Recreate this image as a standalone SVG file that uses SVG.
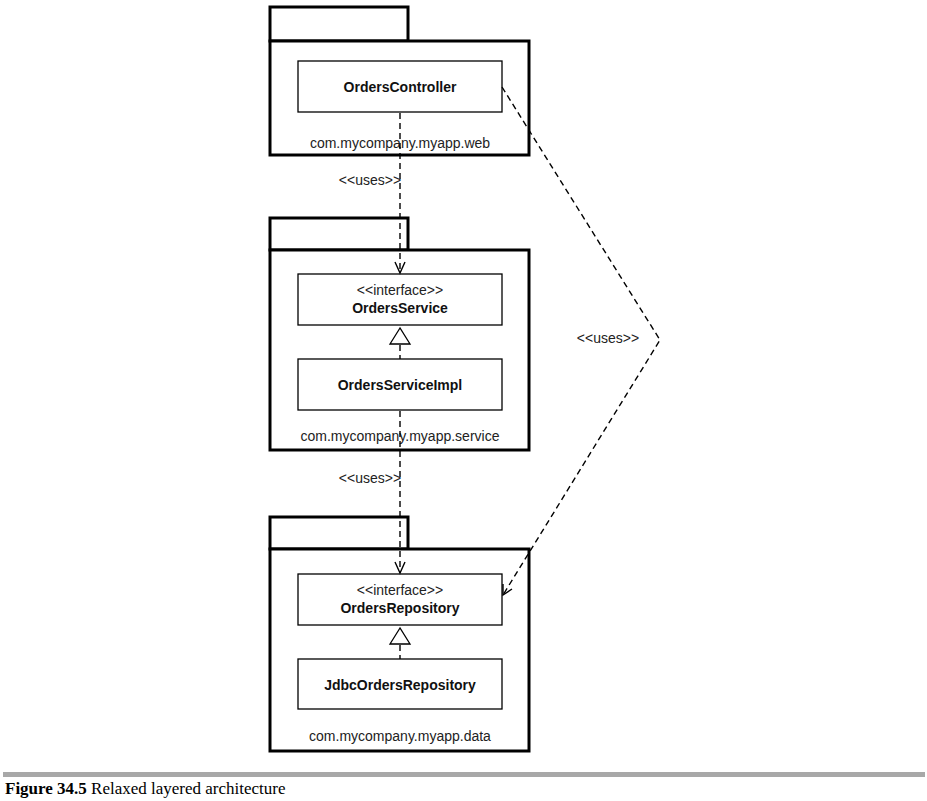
<svg xmlns="http://www.w3.org/2000/svg" width="927" height="801" viewBox="0 0 927 801">
<style>
.pkg{fill:#fff;stroke:#000;stroke-width:3}
.cls{fill:#fff;stroke:#000;stroke-width:1.3}
.name{font-family:"Liberation Sans",Arial,sans-serif;font-size:14px;font-weight:bold;text-anchor:middle;fill:#111}
.ster{font-family:"Liberation Sans",Arial,sans-serif;font-size:14px;text-anchor:middle;fill:#222}
.plabel{font-family:"Liberation Sans",Arial,sans-serif;font-size:14px;text-anchor:middle;fill:#222}
.dash{fill:none;stroke:#000;stroke-width:1.4;stroke-dasharray:6 4}
.arrow{fill:none;stroke:#000;stroke-width:1.4}
.tri{fill:#fff;stroke:#000;stroke-width:1.3}
</style>
<rect x="0" y="0" width="927" height="801" fill="#fff"/>
<g id="pkg-web">
<rect class="pkg" x="270" y="7" width="138" height="34"/>
<rect class="pkg" x="270" y="41" width="259" height="114"/>
<text class="plabel" x="400" y="148">com.mycompany.myapp.web</text>
</g>
<g id="pkg-service">
<rect class="pkg" x="270" y="218" width="138" height="32"/>
<rect class="pkg" x="270" y="250" width="259" height="200"/>
<text class="plabel" x="400" y="441">com.mycompany.myapp.service</text>
</g>
<g id="pkg-data">
<rect class="pkg" x="270" y="517" width="138" height="32"/>
<rect class="pkg" x="270" y="549" width="259" height="202"/>
<text class="plabel" x="400" y="741">com.mycompany.myapp.data</text>
</g>
<g id="OrdersController">
<rect class="cls" x="298" y="61" width="204" height="51"/>
<text class="name" x="400" y="92">OrdersController</text>
</g>
<g id="OrdersService">
<rect class="cls" x="298" y="274" width="204" height="51"/>
<text class="ster" x="400" y="295">&lt;&lt;interface&gt;&gt;</text>
<text class="name" x="400" y="313">OrdersService</text>
</g>
<g id="OrdersServiceImpl">
<rect class="cls" x="298" y="359" width="204" height="51"/>
<text class="name" x="400" y="390">OrdersServiceImpl</text>
</g>
<g id="OrdersRepository">
<rect class="cls" x="298" y="574" width="204" height="51"/>
<text class="ster" x="400" y="595">&lt;&lt;interface&gt;&gt;</text>
<text class="name" x="400" y="613">OrdersRepository</text>
</g>
<g id="JdbcOrdersRepository">
<rect class="cls" x="298" y="659" width="204" height="50"/>
<text class="name" x="400" y="690">JdbcOrdersRepository</text>
</g>
<g id="connectors">
<line class="dash" x1="400" y1="113" x2="400" y2="273"/>
<polyline class="arrow" points="395,262 400,273 405,262"/>
<text class="ster" x="370" y="185">&lt;&lt;uses&gt;&gt;</text>
<line class="dash" x1="400" y1="345" x2="400" y2="359"/>
<polygon class="tri" points="400,328 390,344 410,344"/>
<line class="dash" x1="400" y1="411" x2="400" y2="573"/>
<polyline class="arrow" points="395,562 400,573 405,562"/>
<text class="ster" x="370" y="483">&lt;&lt;uses&gt;&gt;</text>
<line class="dash" x1="400" y1="645" x2="400" y2="659"/>
<polygon class="tri" points="400,628 390,644 410,644"/>
<polyline class="dash" points="502,87 660,340 503,595"/>
<polyline class="arrow" points="503,584 503,595 512,589"/>
<text class="ster" x="608" y="343">&lt;&lt;uses&gt;&gt;</text>
</g>
<rect x="3" y="772" width="922" height="5" fill="#a8a8a8"/>
<text x="5" y="794" font-family="'Liberation Serif','Times New Roman',serif" font-size="17" fill="#000"><tspan font-weight="bold">Figure 34.5</tspan> Relaxed layered architecture</text>
</svg>
